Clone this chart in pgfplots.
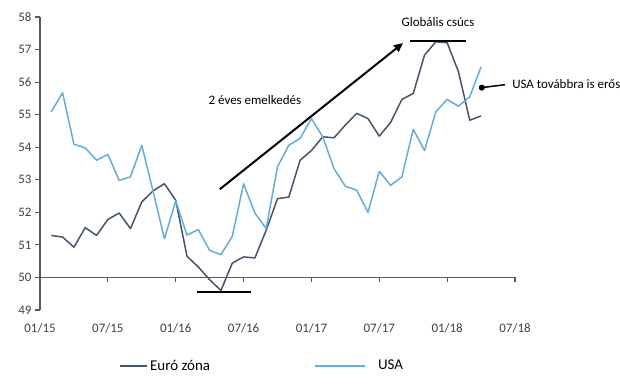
\documentclass[border=0pt]{standalone}
\usepackage{pgfplots}
\pgfplotsset{compat=1.18}
\usepackage{fontspec}
\setmainfont{Carlito}
\usetikzlibrary{arrows.meta}
\definecolor{euro}{HTML}{44546A}
\definecolor{usa}{HTML}{66ABDA}
\definecolor{axgray}{HTML}{595959}
\definecolor{lblgray}{HTML}{404040}
\begin{document}
\begin{tikzpicture}
\path[use as bounding box] (0,0) rectangle (620bp,385bp);
\begin{axis}[
  at={(40bp,75bp)}, anchor=south west,
  scale only axis, width=475bp, height=293bp,
  xmin=0, xmax=42, ymin=49, ymax=58,
  axis lines*=left,
  x axis line style={draw=none},
  y axis line style={draw=axgray, line width=1.8bp},
  xtick={0,6,...,42},
  xticklabels={01/15,07/15,01/16,07/16,01/17,07/17,01/18,07/18},
  ytick={49,50,...,58},
  xtick style={draw=none},
  ytick style={draw=axgray, line width=1.2bp},
  tick align=outside, major tick length=5bp,
  /pgf/number format/assume math mode=true,
  tick label style={font=\fontsize{13}{15}\selectfont, text=lblgray},
  xticklabel style={yshift=-5bp},
  clip=false,
  legend columns=2,
  legend style={draw=none, fill=none, at={(0.16,-0.19)}, anchor=west,
    font=\fontsize{15}{18}\selectfont,
    /tikz/every even column/.append style={column sep=102bp}},
]
\addplot[euro, line width=1.5bp, line join=round,
  legend image code/.code={\draw[euro, line width=2bp] (0bp,0bp) -- (27bp,0bp);}]
coordinates {
(1,51.29)(2,51.24)(3,50.93)(4,51.53)(5,51.29)(6,51.78)(7,51.98)(8,51.50)
(9,52.32)(10,52.66)(11,52.88)(12,52.37)(13,50.65)(14,50.32)(15,49.93)(16,49.60)
(17,50.44)(18,50.63)(19,50.60)(20,51.45)(21,52.42)(22,52.47)(23,53.60)(24,53.90)
(25,54.32)(26,54.29)(27,54.68)(28,55.04)(29,54.88)(30,54.34)(31,54.76)(32,55.47)
(33,55.65)(34,56.83)(35,57.24)(36,57.21)(37,56.32)(38,54.83)(39,54.96)
};
\addlegendentry{Euró zóna}
\addplot[usa, line width=1.5bp, line join=round,
  legend image code/.code={\draw[usa, line width=2bp] (0bp,0bp) -- (50bp,0bp);}]
coordinates {
(1,55.09)(2,55.67)(3,54.09)(4,53.98)(5,53.60)(6,53.78)(7,52.98)(8,53.09)
(9,54.06)(10,52.65)(11,51.19)(12,52.35)(13,51.30)(14,51.47)(15,50.83)(16,50.70)
(17,51.26)(18,52.88)(19,51.98)(20,51.50)(21,53.40)(22,54.06)(23,54.27)(24,54.88)
(25,54.32)(26,53.34)(27,52.80)(28,52.68)(29,52.00)(30,53.26)(31,52.83)(32,53.09)
(33,54.55)(34,53.90)(35,55.09)(36,55.47)(37,55.26)(38,55.55)(39,56.47)
};
\addlegendentry{\hspace{10bp}USA}
% horizontal axis line at 50 with ticks
\draw[axgray, line width=1.5bp] (axis cs:0,50) -- (axis cs:42,50);
\draw[axgray, line width=1.2bp] (axis cs:6,50) -- ([yshift=-5bp]axis cs:6,50);
\draw[axgray, line width=1.2bp] (axis cs:12,50) -- ([yshift=-5bp]axis cs:12,50);
\draw[axgray, line width=1.2bp] (axis cs:18,50) -- ([yshift=-5bp]axis cs:18,50);
\draw[axgray, line width=1.2bp] (axis cs:24,50) -- ([yshift=-5bp]axis cs:24,50);
\draw[axgray, line width=1.2bp] (axis cs:30,50) -- ([yshift=-5bp]axis cs:30,50);
\draw[axgray, line width=1.2bp] (axis cs:36,50) -- ([yshift=-5bp]axis cs:36,50);
\draw[axgray, line width=1.2bp] (axis cs:42,50) -- ([yshift=-5bp]axis cs:42,50);
% annotations
\draw[black, line width=2.5bp] (axis cs:32.7,57.27) -- (axis cs:37.7,57.27);
\draw[black, line width=2.5bp] (axis cs:13.85,49.55) -- (axis cs:18.7,49.55);
\draw[black, line width=2bp, -{Triangle[length=9bp,width=8bp]}] (axis cs:15.9,52.71) -- (axis cs:32.1,57.2);
\node[font=\fontsize{13}{15}\selectfont] at (axis cs:19,55.45) {2 éves emelkedés};
\node[font=\fontsize{13}{15}\selectfont] at (axis cs:35.2,57.85) {Globális csúcs};
\node[font=\fontsize{13}{15}\selectfont, anchor=west] at (axis cs:41.45,55.94) {USA továbbra is erős};
\draw[black, line width=1.5bp, -{Circle[length=6bp]}] (axis cs:41.1,55.92) -- (axis cs:38.8,55.82);
\end{axis}
\end{tikzpicture}
\end{document}
